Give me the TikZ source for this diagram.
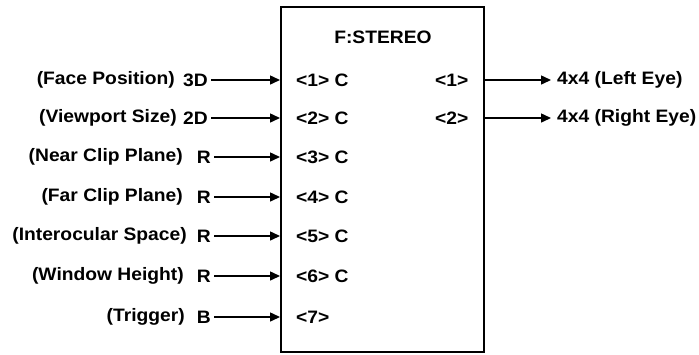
\documentclass[tikz,border=0pt]{standalone}
\usepackage{fontspec}
\setmainfont{Liberation Sans}[BoldFeatures={FakeStretch=1.07}]
\usetikzlibrary{arrows.meta}
\begin{document}
\begin{tikzpicture}[x=1pt,y=-1pt,
  every node/.style={font=\fontsize{18}{21}\selectfont\bfseries, inner sep=0pt},
  desc/.style={anchor=east},
  typ/.style={anchor=east},
  port/.style={anchor=west},
  flow/.style={line width=1.5pt, -{Triangle[length=10pt,width=9pt]}},
  block/.style={draw, line width=2.8pt}]
\useasboundingbox (0,0) rectangle (699,354);

% function block
\draw[block] (281,7) rectangle (484,352);
\node (title) at (383,37) {F:STEREO};

% input rows: y / description / end of description / type / end of type / port
\foreach \i/\y/\d/\dx/\t/\tx/\p in {
  1/80/(Face Position)/175/3D/208/{<1> C},
  2/118/(Viewport Size)/177/2D/208/{<2> C},
  3/157/(Near Clip Plane)/183/R/211/{<3> C},
  4/197/(Far Clip Plane)/183/R/211/{<4> C},
  5/236/(Interocular Space)/187/R/211/{<5> C},
  6/276/(Window Height)/184/R/211/{<6> C},
  7/317/(Trigger)/185/B/211/{<7>}}{
  \node[desc] (d\i) at (\dx,\y) {\d};
  \node[typ] (t\i) at (\tx,\y) {\t};
  \coordinate (in\i) at (280,\y);
  \node[port] (p\i) at (296,\y) {\p};
  \draw[flow] ([xshift=3pt]t\i.east) -- (in\i);
}

% output rows
\foreach \i/\y/\l in {1/80/{4x4 (Left Eye)}, 2/118/{4x4 (Right Eye)}}{
  \node[port] (q\i) at (435,\y) {<\i>};
  \coordinate (out\i) at (485,\y);
  \node[anchor=west] (o\i) at (557,\y) {\l};
  \draw[flow] (out\i) -- ([xshift=-6pt]o\i.west);
}
\end{tikzpicture}
\end{document}
